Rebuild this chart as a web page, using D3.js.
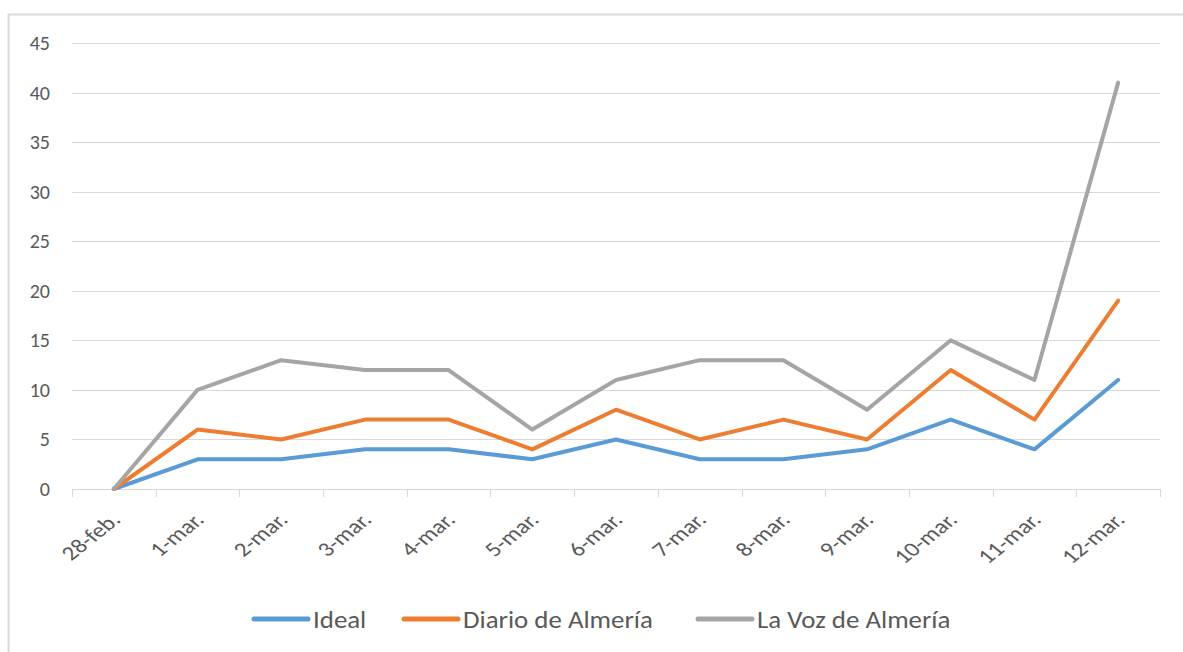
<!DOCTYPE html>
<html>
<head>
<meta charset="utf-8">
<script src="https://cdn.jsdelivr.net/npm/d3@7"></script>
<style>
  body { margin: 0; background: #fff; }
  svg text { font-family: Carlito, "Liberation Sans Narrow", "Open Sans", sans-serif; fill: #595959; }
</style>
</head>
<body>
<div id="chart"></div>
<script>
const dates = ["28-feb.", "1-mar.", "2-mar.", "3-mar.", "4-mar.", "5-mar.", "6-mar.",
               "7-mar.", "8-mar.", "9-mar.", "10-mar.", "11-mar.", "12-mar."];
const ideal = [0, 3, 3, 4, 4, 3, 5, 3, 3, 4, 7, 4, 11];
const diario = [0, 6, 5, 7, 7, 4, 8, 5, 7, 5, 12, 7, 19];
const laVoz = [0, 10, 13, 12, 12, 6, 11, 13, 13, 8, 15, 11, 41];
const yTicks = [0, 5, 10, 15, 20, 25, 30, 35, 40, 45];

const seriesNames = ["Ideal", "Diario de Almería", "La Voz de Almería"];
const seriesColors = ["#5B9BD5", "#ED7D31", "#A5A5A5"];
const seriesValues = [ideal, diario, laVoz];

const W = 1183, H = 652;
const plot = { left: 72, right: 1160, top: 43, bottom: 489 };

const svg = d3.select("#chart").append("svg")
  .attr("width", W)
  .attr("height", H);

// outer chart border (runs off the right and bottom edges)
svg.append("rect")
  .attr("x", 8.5)
  .attr("y", 14.5)
  .attr("width", W + 20)
  .attr("height", H + 20)
  .attr("fill", "none")
  .attr("stroke", "#D9D9D9")
  .attr("stroke-width", 2);

const x = d3.scaleBand()
  .domain(dates)
  .range([plot.left, plot.right]);

const y = d3.scaleLinear()
  .domain([0, 45])
  .range([plot.bottom, plot.top]);

// gridlines
svg.append("g")
  .selectAll("line")
  .data(yTicks.filter(d => d > 0))
  .join("line")
  .attr("x1", plot.left)
  .attr("x2", plot.right)
  .attr("y1", d => Math.round(y(d)) + 0.5)
  .attr("y2", d => Math.round(y(d)) + 0.5)
  .attr("stroke", "#D9D9D9")
  .attr("stroke-width", 1);

// y labels
svg.append("g")
  .selectAll("text")
  .data(yTicks)
  .join("text")
  .attr("x", 50)
  .attr("y", d => y(d))
  .attr("dy", "0.35em")
  .attr("text-anchor", "end")
  .style("font-size", "20px")
  .text(d => d);

// x axis line + tick marks
const xAxis = svg.append("g");
xAxis.append("line")
  .attr("x1", plot.left)
  .attr("x2", plot.right)
  .attr("y1", Math.round(y(0)) + 0.5)
  .attr("y2", Math.round(y(0)) + 0.5)
  .attr("stroke", "#D9D9D9");
xAxis.selectAll(".tick")
  .data(dates.concat(["end"]))
  .join("line")
  .attr("class", "tick")
  .attr("x1", (d, i) => Math.round(plot.left + i * x.bandwidth()) + 0.5)
  .attr("x2", (d, i) => Math.round(plot.left + i * x.bandwidth()) + 0.5)
  .attr("y1", y(0))
  .attr("y2", y(0) + 8)
  .attr("stroke", "#D9D9D9");

// x labels, rotated (the original is a bit wider than tall)
xAxis.selectAll(".lab")
  .data(dates)
  .join("text")
  .attr("class", "lab")
  .attr("transform", d => `translate(${x(d) + x.bandwidth() / 2 + 8},${y(0) + 32}) scale(1.25,1) rotate(-45)`)
  .attr("text-anchor", "end")
  .style("font-size", "20px")
  .text(d => d);

// lines
const line = d3.line()
  .x((d, i) => x(dates[i]) + x.bandwidth() / 2)
  .y(d => y(d));

svg.append("g")
  .selectAll("path")
  .data(seriesValues)
  .join("path")
  .attr("d", line)
  .attr("fill", "none")
  .attr("stroke", (d, i) => seriesColors[i])
  .attr("stroke-width", 4)
  .attr("stroke-linejoin", "round")
  .attr("stroke-linecap", "round");

// legend
const legendX = [254, 404, 698];
const legend = svg.append("g")
  .selectAll("g")
  .data(seriesNames)
  .join("g")
  .attr("transform", (d, i) => `translate(${legendX[i]},619)`);

legend.append("line")
  .attr("x1", 0)
  .attr("x2", 54)
  .attr("stroke", (d, i) => seriesColors[i])
  .attr("stroke-width", 5)
  .attr("stroke-linecap", "round");

legend.append("text")
  .attr("transform", "translate(59,9) scale(1.12,1)")
  .style("font-size", "24px")
  .text(d => d);
</script>
</body>
</html>
